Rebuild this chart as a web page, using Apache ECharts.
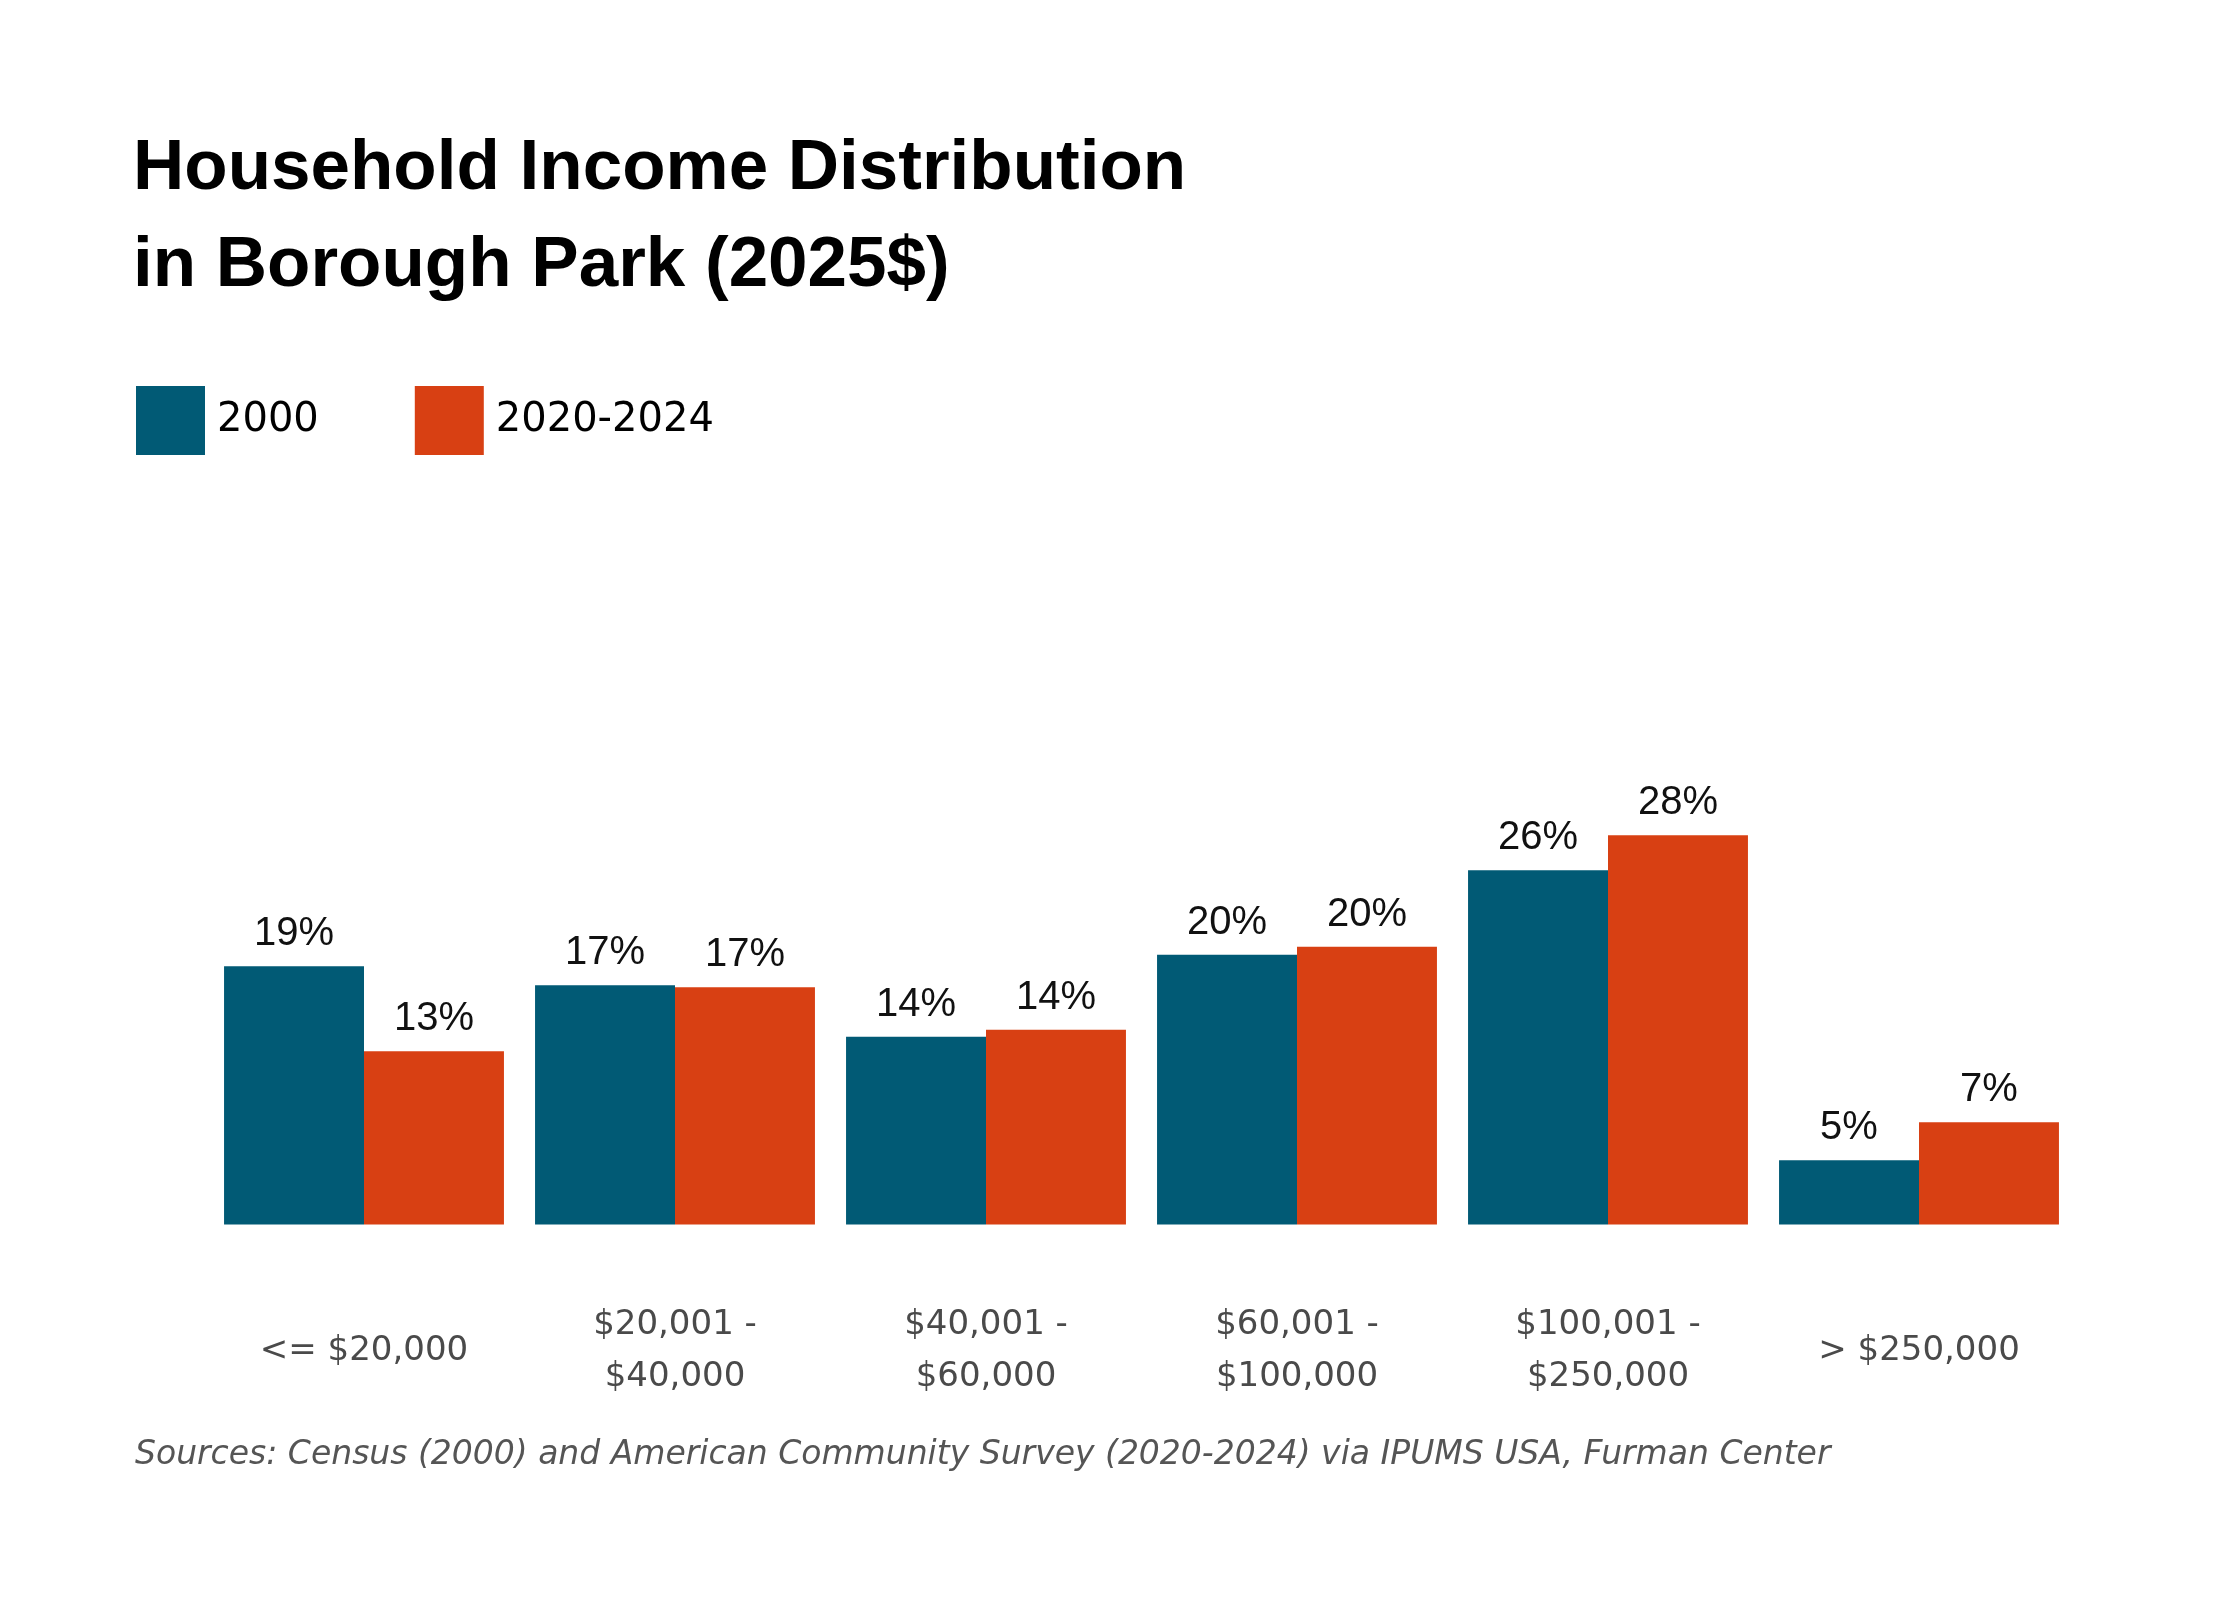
<!DOCTYPE html>
<html>
<head>
<meta charset="utf-8">
<style>
  html, body { margin: 0; padding: 0; background: #ffffff; }
  #chart { width: 2240px; height: 1600px; }
</style>
<script src="https://cdn.jsdelivr.net/npm/echarts@6/dist/echarts.min.js"></script>
</head>
<body>
<div id="chart"></div>
<script>
const categories = ['<= $20,000', '$20,001 -\n$40,000', '$40,001 -\n$60,000', '$60,001 -\n$100,000', '$100,001 -\n$250,000', '> $250,000'];
const seriesNames = ['2000', '2020-2024'];
const values2000 = [18.79, 17.40, 13.65, 19.61, 25.77, 4.68];
const values2020 = [12.60, 17.26, 14.16, 20.20, 28.31, 7.44];
const titleText = 'Household Income Distribution\nin Borough Park (2025$)';
const sourceText = 'Sources: Census (2000) and American Community Survey (2020-2024) via IPUMS USA, Furman Center';

const colors = ['#015a75', '#d84013'];

const chart = echarts.init(document.getElementById('chart'), null, { renderer: 'canvas' });

const labelCfg = {
  show: true,
  position: 'top',
  distance: 12,
  color: '#111111',
  fontFamily: '"Liberation Sans", Arial, sans-serif',
  fontSize: 40,
  formatter: p => Math.round(p.value) + '%'
};

chart.setOption({
  backgroundColor: '#ffffff',
  animation: false,
  title: {
    text: titleText,
    left: 133,
    top: 121,
    padding: 0,
    textStyle: {
      fontFamily: '"Liberation Sans", Arial, sans-serif',
      fontWeight: 'bold',
      fontSize: 71,
      lineHeight: 97,
      color: '#000000'
    }
  },
  legend: {
    left: 136,
    top: 386,
    padding: 0,
    itemWidth: 69,
    itemHeight: 69,
    itemGap: 96,
    icon: 'rect',
    selectedMode: false,
    data: seriesNames,
    textStyle: {
      fontFamily: '"DejaVu Sans", sans-serif',
      fontSize: 40,
      color: '#000000',
      padding: [0, 0, 0, 7]
    }
  },
  grid: {
    left: 208.5,
    right: 165.5,
    top: 812,
    bottom: 375.5,
    containLabel: false
  },
  xAxis: {
    type: 'category',
    data: categories,
    axisLine: { show: false },
    axisTick: { show: false },
    splitLine: { show: false },
    axisLabel: {
      interval: 0,
      margin: 127,
      verticalAlign: 'middle',
      fontFamily: '"DejaVu Sans", sans-serif',
      fontSize: 34,
      lineHeight: 52,
      color: '#4a4a4a'
    }
  },
  yAxis: {
    type: 'value',
    min: 0,
    max: 30,
    show: false,
    splitLine: { show: false }
  },
  graphic: [
    {
      type: 'text',
      left: 135,
      top: 1439,
      style: {
        text: sourceText,
        font: 'italic 200 33px "DejaVu Sans", sans-serif',
        fill: '#555555'
      }
    }
  ],
  series: [
    {
      name: seriesNames[0],
      type: 'bar',
      data: values2000,
      barGap: '0%',
      barCategoryGap: '10%',
      itemStyle: { color: colors[0] },
      label: labelCfg
    },
    {
      name: seriesNames[1],
      type: 'bar',
      data: values2020,
      barGap: '0%',
      barCategoryGap: '10%',
      itemStyle: { color: colors[1] },
      label: labelCfg
    }
  ]
});
</script>
</body>
</html>
